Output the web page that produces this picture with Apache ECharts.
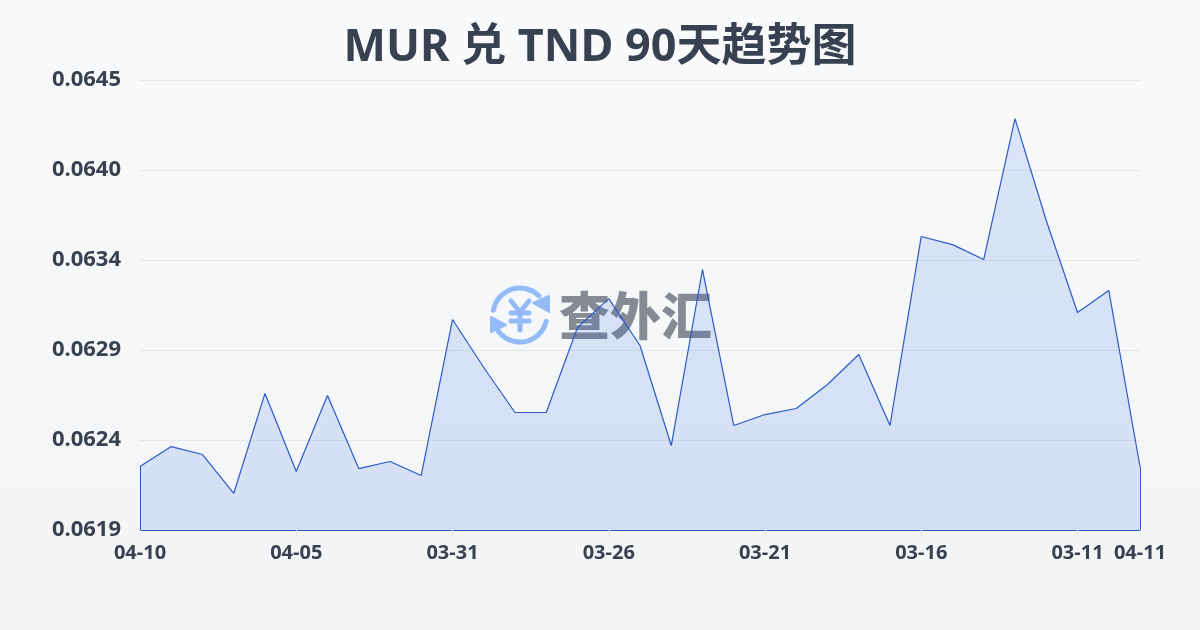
<!DOCTYPE html>
<html><head><meta charset="utf-8">
<style>html,body{margin:0;padding:0;width:1200px;height:630px;overflow:hidden}#c{width:1200px;height:630px}</style>
<script src="https://cdn.jsdelivr.net/npm/echarts@6/dist/echarts.min.js"></script>
</head><body><div id="c"></div>
<script>
const categories = ['04-10','04-09','04-08','04-07','04-06','04-05','04-04','04-03','04-02','04-01','03-31','03-30','03-29','03-28','03-27','03-26','03-25','03-24','03-23','03-22','03-21','03-20','03-19','03-18','03-17','03-16','03-15','03-14','03-13','03-12','03-11','03-10','04-11'];
const rates = [0.062247,0.062362,0.062316,0.062091,0.062669,0.062218,0.062657,0.062235,0.062276,0.062195,0.063096,0.062819,0.062559,0.062559,0.06305,0.063217,0.062946,0.062368,0.063385,0.062484,0.062547,0.062582,0.062721,0.062894,0.062484,0.063576,0.063529,0.063443,0.064257,0.063668,0.063137,0.063264,0.062247];
const yMin = 0.06188, yMax = 0.06448, yStep = 0.00052;
const FONT = '"Noto Sans","Noto Sans CJK SC",sans-serif';
const labelled = new Set([0,5,10,15,20,25,30,32]);
const chart = echarts.init(document.getElementById('c'), null, {renderer:'canvas'});
const last = categories.length-1;
const LOGO = '#93bbf8';
const stroke = {fill:'none',stroke:LOGO,lineWidth:5,lineCap:'round',lineJoin:'round'};
chart.setOption({
  animation:false,
  backgroundColor:new echarts.graphic.LinearGradient(0,0,0,1,[{offset:0,color:'#f9fafb'},{offset:1,color:'#f3f4f6'}]),
  title:{text:'MUR 兑 TND 90天趋势图',left:'center',top:11,textStyle:{fontFamily:FONT,fontSize:45,fontWeight:'bold',color:'#374151',lineHeight:64}},
  grid:{left:140,right:60,top:80,bottom:100},
  xAxis:{type:'category',boundaryGap:false,data:categories,
    axisLine:{show:true,lineStyle:{color:'#2a5bc9',width:1}},
    axisTick:{show:true,length:6,interval:i=>labelled.has(i),lineStyle:{color:'#e5e7eb'}},
    axisLabel:{interval:i=>labelled.has(i),margin:13,fontFamily:FONT,fontSize:20,fontWeight:'bold',color:'#374151',hideOverlap:false},
    splitLine:{show:false}},
  yAxis:{type:'value',min:yMin,max:yMax,interval:yStep,
    axisLine:{show:false},axisTick:{show:false},
    axisLabel:{margin:19,padding:[0,0,2,0],formatter:v=>v.toFixed(4),fontFamily:FONT,fontSize:22,fontWeight:'bold',color:'#374151'},
    splitLine:{show:true,lineStyle:{color:'#e5e7eb',width:1}}},
  graphic:[
    {type:'group',silent:true,children:[
      {type:'arc',shape:{cx:520,cy:315,r:27,startAngle:-2.96,endAngle:-0.785},style:stroke},
      {type:'arc',shape:{cx:520,cy:315,r:27,startAngle:0.24,endAngle:2.5},style:stroke},
      {type:'polygon',shape:{points:[[549,296],[549,312],[533,303]]},style:{fill:LOGO,stroke:LOGO,lineWidth:2,lineJoin:'round'}},
      {type:'polygon',shape:{points:[[491,317],[491,332],[506,325]]},style:{fill:LOGO,stroke:LOGO,lineWidth:2,lineJoin:'round'}},
      {type:'polyline',shape:{points:[[511,301],[520,312],[529,301]]},style:stroke},
      {type:'line',shape:{x1:520,y1:312,x2:520,y2:330},style:stroke},
      {type:'line',shape:{x1:511,y1:313,x2:529,y2:313},style:stroke},
      {type:'line',shape:{x1:511,y1:321,x2:529,y2:321},style:stroke},
      {type:'text',style:{text:'查外汇',x:559,y:316,align:'left',verticalAlign:'middle',font:'900 51px "Noto Sans CJK SC",sans-serif',fill:'#858a94'}}
    ]}
  ],
  series:[{type:'line',data:rates,symbol:'none',smooth:false,z:5,
    lineStyle:{color:'#2a5bc9',width:1.2},
    areaStyle:{color:'rgba(37,99,235,0.14)',opacity:1},
    markLine:{silent:true,symbol:'none',label:{show:false},lineStyle:{color:'#2a5bc9',width:1,type:'solid'},
      data:[
        [{coord:[categories[0],yMin]},{coord:[categories[0],rates[0]]}],
        [{coord:[categories[last],yMin]},{coord:[categories[last],rates[last]]}]
      ]}
  }]
});
</script></body></html>
